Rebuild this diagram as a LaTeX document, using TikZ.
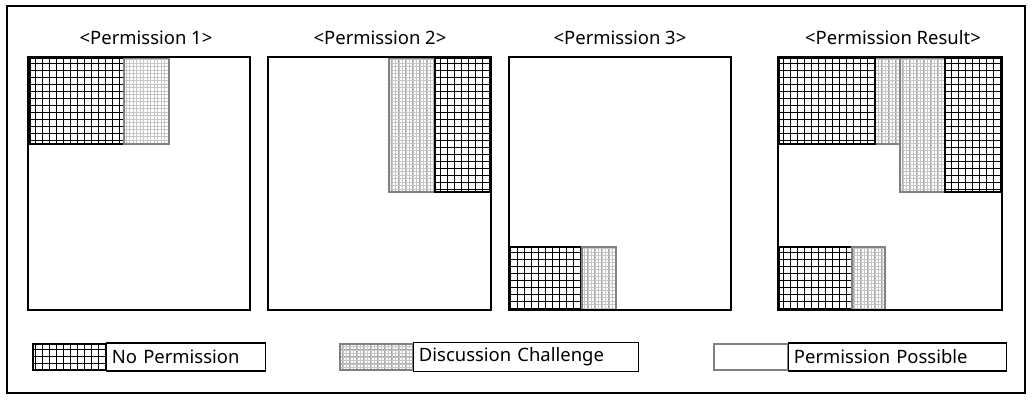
\documentclass[tikz,border=0pt]{standalone}
\usepackage{fontspec}
\setmainfont{Noto Sans}
\usetikzlibrary{positioning}

\tikzset{
  panel/.style={draw, line width=1.2pt},
  legendbox/.style={draw, line width=0.8pt, anchor=west, minimum height=28*0.02cm,
    inner sep=3pt, font=\fontsize{10.5}{12}\selectfont\bfseries},
  title/.style={font=\fontsize{10.5}{12}\selectfont\bfseries}
}
% hatched areas
\newcommand{\nopermit}[2]{%
  \begin{scope}
    \clip #1 rectangle #2;
    \draw[black, line width=0.5pt, step=0.14cm] #1 grid #2;
  \end{scope}
  \draw[black, line width=0.7pt] #1 rectangle #2;}
\newcommand{\discuss}[2]{%
  \begin{scope}
    \clip #1 rectangle #2;
    \draw[gray!70, line width=0.5pt, step=0.14cm] #1 grid #2;
    \draw[gray!45, line width=0.3pt, step=0.07cm] #1 grid #2;
  \end{scope}
  \draw[gray, line width=0.6pt] #1 rectangle #2;}

\begin{document}
\begin{tikzpicture}[x=0.02cm, y=-0.02cm]
  \useasboundingbox (0,0) rectangle (1032,400);
  \draw[line width=0.8pt] (7,6) rectangle (1025,393);

  % titles
  \node[title] (t1) at (146,38) {<Permission 1>};
  \node[title] (t2) at (380,38) {<Permission 2>};
  \node[title] (t3) at (620,38) {<Permission 3>};
  \node[title] (t4) at (893,38) {<Permission Result>};

  % panel 1
  \nopermit{(30,58)}{(124,144)}
  \discuss{(124,58)}{(169,144)}
  \draw[panel] (28,57) rectangle (250,310);

  % panel 2
  \discuss{(389,58)}{(435,192)}
  \nopermit{(435,58)}{(491,192)}
  \draw[panel] (268,57) rectangle (491,310);

  % panel 3
  \nopermit{(510,247)}{(582,310)}
  \discuss{(582,247)}{(616,310)}
  \draw[panel] (509,57) rectangle (731,310);

  % result
  \discuss{(875,58)}{(900,144)}
  \discuss{(900,58)}{(945,192)}
  \nopermit{(779,58)}{(875,144)}
  \nopermit{(945,58)}{(1002,192)}
  \nopermit{(779,247)}{(852,310)}
  \discuss{(852,247)}{(885,310)}
  \draw[panel] (778,57) rectangle (1002,310);

  % legend
  \nopermit{(33,344)}{(106,370)}
  \node[legendbox, text width=148*0.02cm] (l1) at (106,357) {No Permission};
  \discuss{(340,344)}{(413,370)}
  \node[legendbox, text width=214*0.02cm] (l2) at (413,357) {Discussion Challenge};
  \draw[gray, line width=0.6pt] (714,344) rectangle (788,370);
  \node[legendbox, text width=207*0.02cm] (l3) at (788,357) {Permission Possible};
\end{tikzpicture}
\end{document}
